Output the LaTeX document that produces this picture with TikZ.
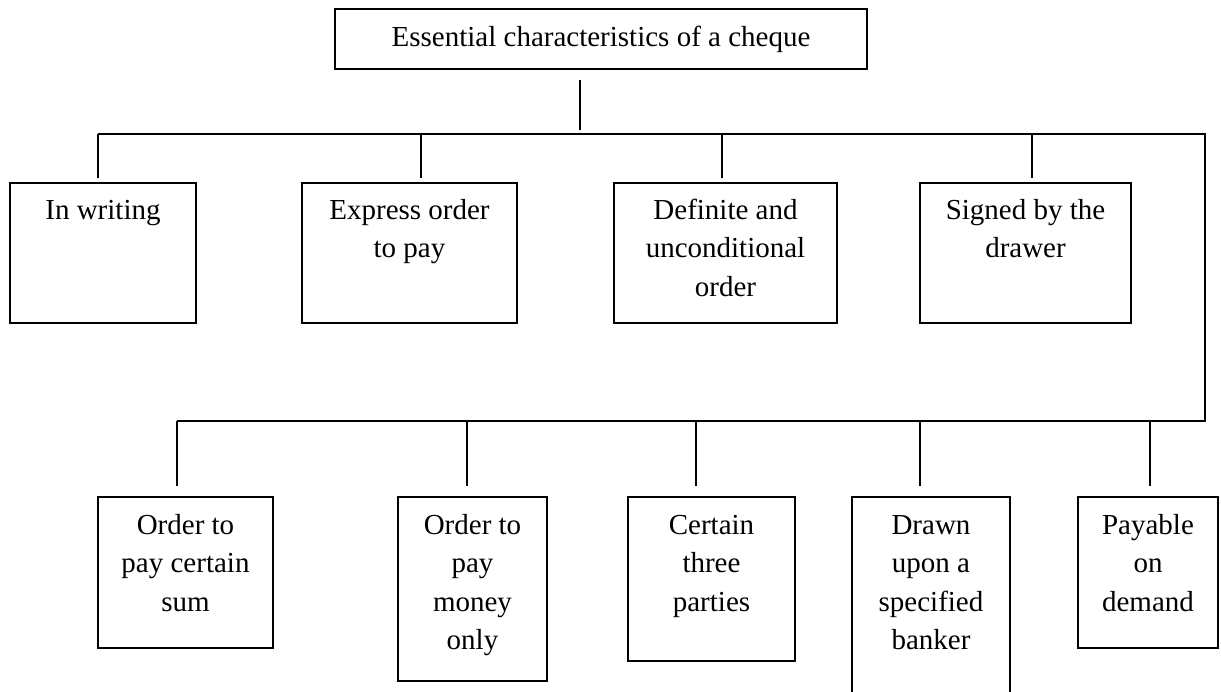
\documentclass[tikz,border=0pt]{standalone}
\usepackage{fontspec}
\setmainfont{Liberation Serif}
\usetikzlibrary{calc}

\tikzset{
  box/.style={draw, line width=1.8pt, inner sep=0pt, rectangle},
  label text/.style={anchor=base, inner sep=0pt, font=\fontsize{29}{38.5}\selectfont},
  link/.style={draw, line width=1.5pt},
}
\newcommand{\cell}[2]{\parbox[t]{#1pt}{\centering #2}}

\begin{document}
\begin{tikzpicture}[x=1pt, y=-1pt]
  \clip (0,0) rectangle (1221,691);
  \useasboundingbox (0,0) rectangle (1221,691);

  % title box
  \node[box, minimum width=532pt, minimum height=60pt] (top) at (601,39) {};
  \node[label text] (toptext) at (601,46) {Essential characteristics of a cheque};

  % first row of boxes
  \node[box, minimum width=186pt, minimum height=140pt] (w) at (103,253) {};
  \node[box, minimum width=215pt, minimum height=140pt] (e) at (409.5,253) {};
  \node[box, minimum width=223pt, minimum height=140pt] (d) at (725.5,253) {};
  \node[box, minimum width=211pt, minimum height=140pt] (s) at (1025.5,253) {};

  \node[label text] (wt) at ($(w.north)+(0,37)$) {\cell{180}{In writing}};
  \node[label text] (et) at ($(e.north)+(0,37)$) {\cell{210}{Express order\\to pay}};
  \node[label text] (dt) at ($(d.north)+(0,37)$) {\cell{220}{Definite and\\unconditional\\order}};
  \node[label text] (st) at ($(s.north)+(0,37)$) {\cell{205}{Signed by the\\drawer}};

  % second row of boxes
  \node[box, minimum width=175pt, minimum height=151pt] (o1) at (185.5,572.5) {};
  \node[box, minimum width=149pt, minimum height=184pt] (o2) at (472.5,589) {};
  \node[box, minimum width=167pt, minimum height=164pt] (c) at (711.5,579) {};
  \node[box, minimum width=158pt, minimum height=230pt] (dr) at (931,612) {};
  \node[box, minimum width=140pt, minimum height=151pt] (p) at (1148,572.5) {};

  \node[label text] (o1t) at ($(o1.north)+(0,38)$) {\cell{170}{Order to\\pay certain\\sum}};
  \node[label text] (o2t) at ($(o2.north)+(0,38)$) {\cell{145}{Order to\\pay\\money\\only}};
  \node[label text] (ct) at ($(c.north)+(0,38)$) {\cell{160}{Certain\\three\\parties}};
  \node[label text] (drt) at ($(dr.north)+(0,38)$) {\cell{155}{Drawn\\upon a\\specified\\banker}};
  \node[label text] (pt) at ($(p.north)+(0,38)$) {\cell{135}{Payable\\on\\demand}};

  % bus lines
  \coordinate (b1) at (98,134);
  \coordinate (b2) at (421,134);
  \coordinate (b3) at (722,134);
  \coordinate (b4) at (1032,134);
  \coordinate (bend) at (1205,134);
  \coordinate (l1) at (177,421);
  \coordinate (l2) at (467,421);
  \coordinate (l3) at (696,421);
  \coordinate (l4) at (920,421);
  \coordinate (l5) at (1150,421);
  \coordinate (lend) at (1205,421);

  \draw[link] ($(top.south)+(-21,10)$) -- ($(top.south |- b1)+(-21,-4)$);
  \draw[link] (b1) -- (bend) -- (lend) -- (l1);

  \draw[link] (b1) -- ($(b1 |- w.north)+(0,-4)$);
  \draw[link] (b2) -- ($(b2 |- e.north)+(0,-4)$);
  \draw[link] (b3) -- ($(b3 |- d.north)+(0,-4)$);
  \draw[link] (b4) -- ($(b4 |- s.north)+(0,-4)$);

  \draw[link] (l1) -- ($(l1 |- o1.north)+(0,-10)$);
  \draw[link] (l2) -- ($(l2 |- o2.north)+(0,-10)$);
  \draw[link] (l3) -- ($(l3 |- c.north)+(0,-10)$);
  \draw[link] (l4) -- ($(l4 |- dr.north)+(0,-10)$);
  \draw[link] (l5) -- ($(l5 |- p.north)+(0,-10)$);
\end{tikzpicture}
\end{document}
